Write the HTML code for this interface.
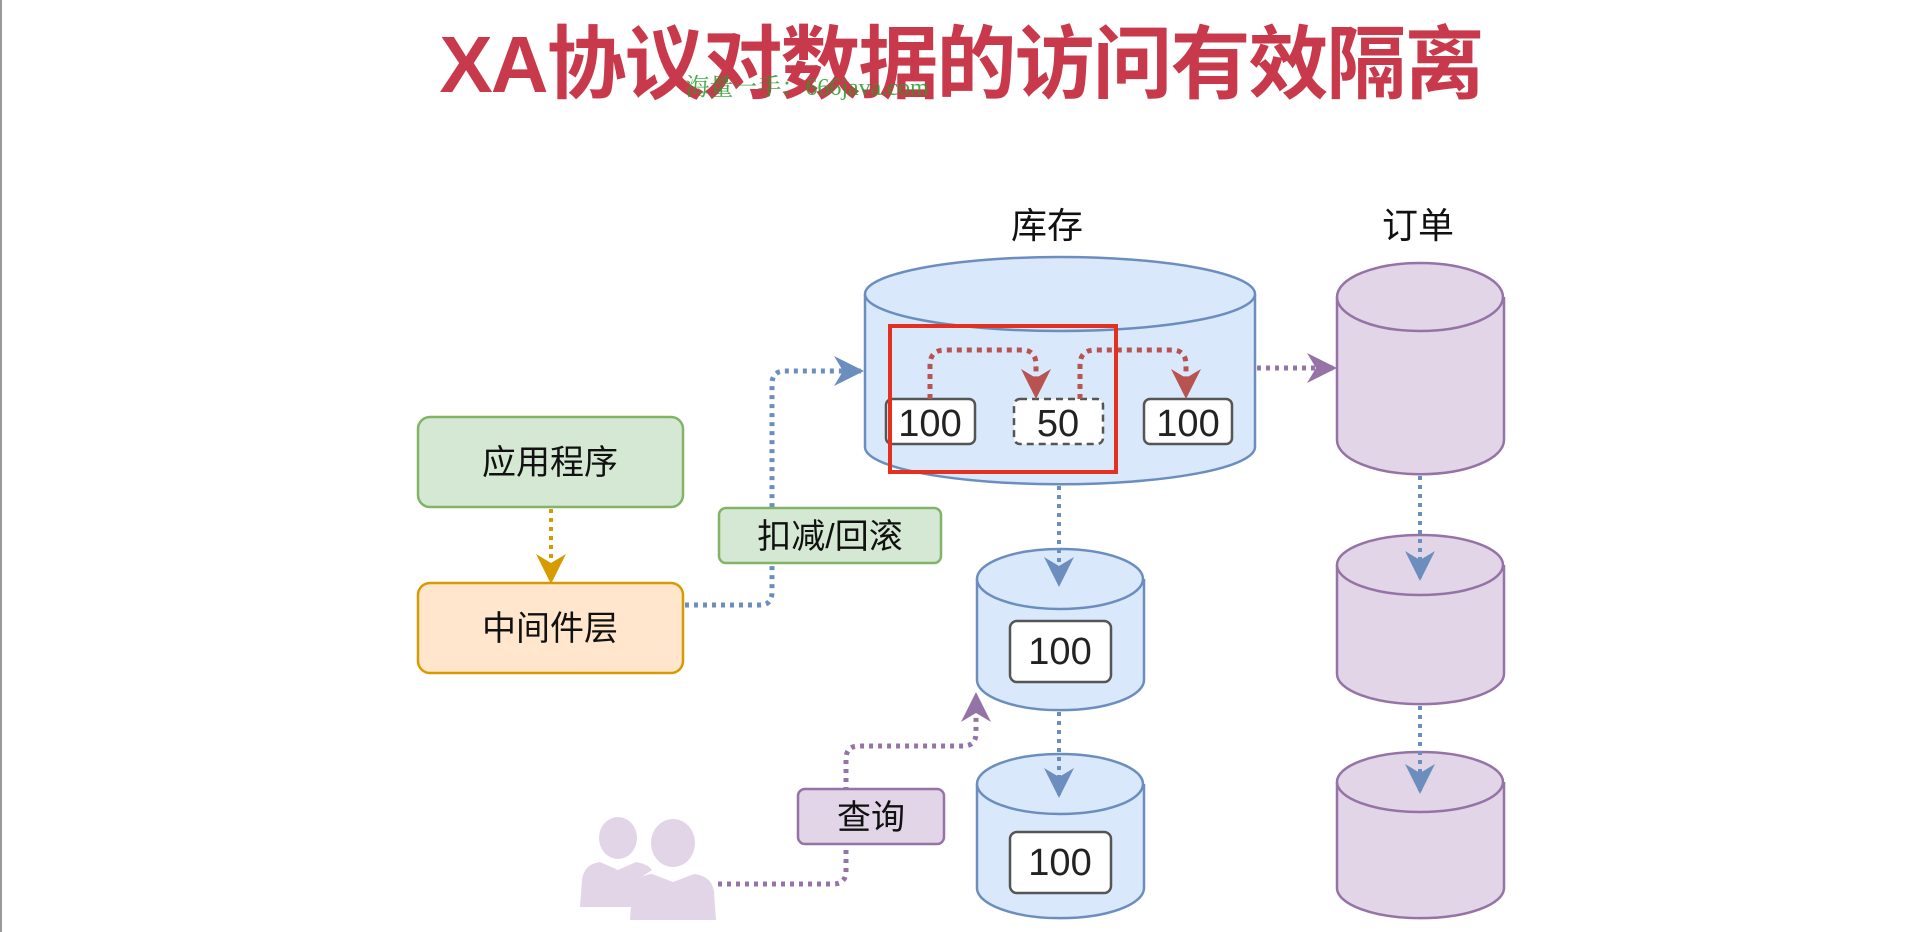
<!DOCTYPE html>
<html><head><meta charset="utf-8"><style>
html,body{margin:0;padding:0;background:#fff;width:1920px;height:932px;overflow:hidden}
svg{display:block}
text{font-family:"Liberation Sans","Noto Sans CJK SC",sans-serif}
</style></head><body>
<svg width="1920" height="932" viewBox="0 0 1920 932" xmlns="http://www.w3.org/2000/svg">
<defs>
<marker id="ab" viewBox="0 0 20 20" refX="18" refY="10" markerWidth="30" markerHeight="30" markerUnits="userSpaceOnUse" orient="auto"><path d="M0,0 L20,10 L0,20 L6,10 Z" fill="#6c8ebf"/></marker>
<marker id="ap" viewBox="0 0 20 20" refX="18" refY="10" markerWidth="30" markerHeight="30" markerUnits="userSpaceOnUse" orient="auto"><path d="M0,0 L20,10 L0,20 L6,10 Z" fill="#9673a6"/></marker>
<marker id="ao" viewBox="0 0 20 20" refX="18" refY="10" markerWidth="30" markerHeight="30" markerUnits="userSpaceOnUse" orient="auto"><path d="M0,0 L20,10 L0,20 L6,10 Z" fill="#d79b00"/></marker>
<marker id="ar" viewBox="0 0 20 20" refX="18" refY="10" markerWidth="30" markerHeight="30" markerUnits="userSpaceOnUse" orient="auto"><path d="M0,0 L20,10 L0,20 L6,10 Z" fill="#b85450"/></marker>
</defs>
<line x1="1" y1="0" x2="1" y2="932" stroke="#999" stroke-width="2"/>
<text x="961" y="92" text-anchor="middle" font-size="80" font-weight="bold" fill="#c9394c" letter-spacing="-2">XA协议对数据的访问有效隔离</text>
<text x="807" y="95" text-anchor="middle" font-size="24" fill="#2a9a2a" style="font-family:'Liberation Serif','Noto Serif CJK SC',serif" opacity="0.85">海量一手：666java.com</text>

<text x="1047" y="238" text-anchor="middle" font-size="36" fill="#111">库存</text>
<text x="1418" y="238" text-anchor="middle" font-size="36" fill="#111">订单</text>

<path d="M865,294 L865,447 A194,37 0 0 0 1255,447 L1255,294" fill="#dae8fc" stroke="#6c8ebf" stroke-width="2.5"/>
<ellipse cx="1060" cy="294" rx="195" ry="37" fill="#dae8fc" stroke="#6c8ebf" stroke-width="2.5"/>

<rect x="886" y="399" width="89" height="45" rx="6" fill="#fff" stroke="#555" stroke-width="2.5"/>
<text x="930" y="436" text-anchor="middle" font-size="38" fill="#222">100</text>
<rect x="1014" y="399" width="89" height="45" rx="6" fill="#fff" stroke="#555" stroke-width="2.5" stroke-dasharray="7,5"/>
<text x="1058" y="436" text-anchor="middle" font-size="38" fill="#222">50</text>
<rect x="1144" y="399" width="88" height="45" rx="6" fill="#fff" stroke="#555" stroke-width="2.5"/>
<text x="1188" y="436" text-anchor="middle" font-size="38" fill="#222">100</text>
<path d="M930,399 L930,365 Q930,350 945,350 L1022,350 Q1036,350 1036,365 L1036,396" fill="none" stroke="#b85450" stroke-width="5" stroke-dasharray="5,5" marker-end="url(#ar)"/>
<path d="M1080,399 L1080,365 Q1080,350 1095,350 L1172,350 Q1186,350 1186,365 L1186,396" fill="none" stroke="#b85450" stroke-width="5" stroke-dasharray="5,5" marker-end="url(#ar)"/>
<rect x="890" y="326" width="226" height="146" fill="none" stroke="#e3301f" stroke-width="4"/>

<g fill="#e1d5e7" stroke="#9673a6" stroke-width="2.5">
<path d="M1337,297 L1337,440 A83,34 0 0 0 1504,440 L1504,297"/><ellipse cx="1420" cy="297" rx="83" ry="34"/>
<path d="M1337,565 L1337,674 A83,30 0 0 0 1504,674 L1504,565"/><ellipse cx="1420" cy="565" rx="83" ry="30"/>
<path d="M1337,782 L1337,888 A83,30 0 0 0 1504,888 L1504,782"/><ellipse cx="1420" cy="782" rx="83" ry="30"/>
</g>
<g fill="#dae8fc" stroke="#6c8ebf" stroke-width="2.5">
<path d="M977,579 L977,680 A83,30 0 0 0 1144,680 L1144,579"/><ellipse cx="1060" cy="579" rx="83" ry="30"/>
<path d="M977,784 L977,888 A83,30 0 0 0 1144,888 L1144,784"/><ellipse cx="1060" cy="784" rx="83" ry="30"/>
</g>
<rect x="1010" y="621" width="101" height="61" rx="7" fill="#fff" stroke="#555" stroke-width="2.5"/>
<text x="1060" y="664" text-anchor="middle" font-size="38" fill="#222">100</text>
<rect x="1010" y="832" width="101" height="61" rx="7" fill="#fff" stroke="#555" stroke-width="2.5"/>
<text x="1060" y="875" text-anchor="middle" font-size="38" fill="#222">100</text>

<g fill="none" stroke-width="4" stroke-dasharray="4,5">
<line x1="1059" y1="486" x2="1059" y2="584" stroke="#6c8ebf" marker-end="url(#ab)"/>
<line x1="1059" y1="712" x2="1059" y2="795" stroke="#6c8ebf" marker-end="url(#ab)"/>
<line x1="1420" y1="476" x2="1420" y2="578" stroke="#6c8ebf" marker-end="url(#ab)"/>
<line x1="1420" y1="706" x2="1420" y2="791" stroke="#6c8ebf" marker-end="url(#ab)"/>
<line x1="1257" y1="368" x2="1334" y2="368" stroke="#9673a6" stroke-width="5" marker-end="url(#ap)"/>
<line x1="551" y1="509" x2="551" y2="581" stroke="#d79b00" marker-end="url(#ao)"/>
<path d="M685,605 L760,605 Q772,605 772,592 L772,384 Q772,371 785,371 L861,371" stroke="#6c8ebf" stroke-width="5" marker-end="url(#ab)"/>
<path d="M718,884 L833,884 Q846,884 846,871 L846,759 Q846,746 859,746 L963,746 Q976,746 976,733 L976,695" stroke="#9673a6" stroke-width="5" marker-end="url(#ap)"/>
</g>

<rect x="418" y="417" width="265" height="90" rx="12" fill="#d5e8d4" stroke="#82b366" stroke-width="2.5"/>
<text x="550" y="474" text-anchor="middle" font-size="34" fill="#111">应用程序</text>
<rect x="418" y="583" width="265" height="90" rx="12" fill="#ffe6cc" stroke="#d79b00" stroke-width="2.5"/>
<text x="550" y="640" text-anchor="middle" font-size="34" fill="#111">中间件层</text>
<rect x="719" y="508" width="222" height="55" rx="7" fill="#d5e8d4" stroke="#82b366" stroke-width="2.5"/>
<text x="830" y="548" text-anchor="middle" font-size="34" fill="#111">扣减/回滚</text>
<rect x="798" y="789" width="146" height="55" rx="7" fill="#e1d5e7" stroke="#9673a6" stroke-width="2.5"/>
<text x="871" y="829" text-anchor="middle" font-size="34" fill="#111">查询</text>

<g fill="#e1d5e7">
<ellipse cx="618" cy="838" rx="19" ry="21"/>
<path d="M580,907 L582,880 Q584,864 600,862 L618,870 L636,862 Q648,864 652,870 L640,878 L636,907 Z"/>
<ellipse cx="673" cy="843" rx="22" ry="24"/>
<path d="M630,920 L632,892 Q634,876 652,874 L673,882 L694,874 Q712,876 714,892 L716,920 Z"/>
</g>
</svg>
</body></html>
